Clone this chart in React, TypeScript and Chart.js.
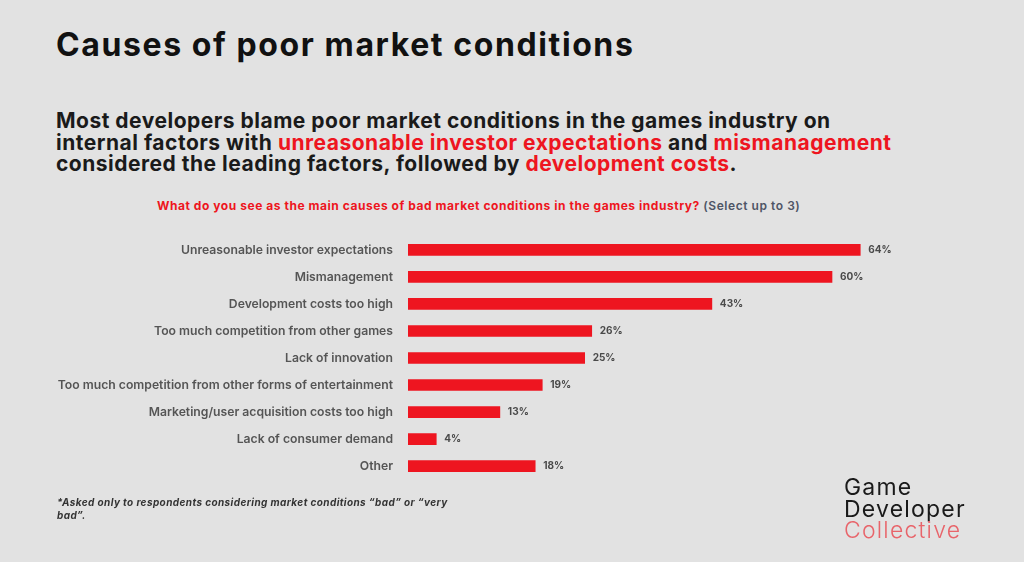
import React, { useEffect, useRef } from "react";
import { Chart, registerables } from "chart.js";

Chart.register(...registerables);

const categories = [
  "Unreasonable investor expectations",
  "Mismanagement",
  "Development costs too high",
  "Too much competition from other games",
  "Lack of innovation",
  "Too much competition from other forms of entertainment",
  "Marketing/user acquisition costs too high",
  "Lack of consumer demand",
  "Other",
];
const values = [64, 60, 43, 26, 25, 19, 13, 4, 18];
const valueLabels = ["64%", "60%", "43%", "26%", "25%", "19%", "13%", "4%", "18%"];

const RED = "#ee1520";
const FONT = "Inter, 'Open Sans', sans-serif";

const valueLabelPlugin = {
  id: "valueLabels",
  afterDatasetsDraw(chart: any) {
    const ctx = chart.ctx;
    const meta = chart.getDatasetMeta(0);
    ctx.save();
    ctx.font = `700 10px ${FONT}`;
    ctx.fillStyle = "#4a4a4a";
    ctx.textAlign = "left";
    ctx.textBaseline = "middle";
    meta.data.forEach((bar: any, i: number) => {
      ctx.fillText(valueLabels[i], bar.x + 8, bar.y);
    });
    ctx.restore();
  },
};

function BarChart() {
  const ref = useRef<HTMLCanvasElement | null>(null);
  useEffect(() => {
    if (!ref.current) return;
    const chart = new Chart(ref.current, {
      type: "bar",
      data: {
        labels: categories,
        datasets: [
          {
            data: values,
            backgroundColor: RED,
            borderWidth: 0,
            barThickness: 11,
          },
        ],
      },
      options: {
        indexAxis: "y",
        animation: false,
        responsive: true,
        maintainAspectRatio: false,
        layout: { padding: 0 },
        plugins: {
          legend: { display: false },
          tooltip: { enabled: false },
        },
        scales: {
          x: {
            display: false,
            min: 0,
            max: 75,
          },
          y: {
            grid: { display: false, drawTicks: false },
            border: { display: false },
            afterFit(scale: any) {
              scale.width = 408;
            },
            ticks: {
              padding: 15,
              color: "#555555",
              font: { family: FONT, size: 12.2, weight: 600 },
              autoSkip: false,
            },
          },
        },
      },
      plugins: [valueLabelPlugin],
    });
    return () => chart.destroy();
  }, []);
  return (
    <div style={{ position: "absolute", left: 0, top: 214, width: 938, height: 288 }}>
      <canvas ref={ref} />
    </div>
  );
}

export default function App() {
  const red = { color: RED };
  return (
    <div
      style={{
        position: "fixed",
        left: 0,
        top: 0,
        width: 1024,
        height: 562,
        background: "#e2e2e2",
        fontFamily: FONT,
        overflow: "hidden",
      }}
    >
      <div
        style={{
          position: "absolute",
          left: 56,
          top: 25,
          fontSize: 32,
          fontWeight: 700,
          color: "#111",
          letterSpacing: 1.6,
          whiteSpace: "nowrap",
        }}
      >
        Causes of poor market conditions
      </div>
      <div
        style={{
          position: "absolute",
          left: 56,
          top: 110,
          fontSize: 21,
          lineHeight: "21.5px",
          fontWeight: 700,
          color: "#1a1a1a",
          letterSpacing: 0.5,
          whiteSpace: "nowrap",
        }}
      >
        Most developers blame poor market conditions in the games industry on
        <br />
        internal factors with <span style={red}>unreasonable investor expectations</span> and{" "}
        <span style={red}>mismanagement</span>
        <br />
        considered the leading factors, followed by <span style={red}>development costs</span>.
      </div>
      <div
        style={{
          position: "absolute",
          left: 157,
          top: 198,
          fontSize: 12,
          fontWeight: 700,
          color: RED,
          letterSpacing: 0.55,
          whiteSpace: "nowrap",
        }}
      >
        What do you see as the main causes of bad market conditions in the games industry?{" "}
        <span style={{ color: "#4e5566", fontWeight: 600 }}>(Select up to 3)</span>
      </div>
      <BarChart />
      <div
        style={{
          position: "absolute",
          left: 57,
          top: 496,
          fontSize: 10,
          lineHeight: "13px",
          fontWeight: 700,
          fontStyle: "italic",
          color: "#333",
          letterSpacing: 0.4,
          whiteSpace: "nowrap",
        }}
      >
        *Asked only to respondents considering market conditions “bad” or “very
        <br />
        bad”.
      </div>
      <div
        style={{
          position: "absolute",
          left: 844,
          top: 477,
          fontSize: 23,
          lineHeight: "21.5px",
          fontWeight: 400,
          color: "#1a1a1a",
          letterSpacing: 1.2,
          whiteSpace: "nowrap",
        }}
      >
        Game
        <br />
        Developer
        <br />
        <span style={{ color: "#e8646a", fontWeight: 300 }}>Collective</span>
      </div>
    </div>
  );
}
